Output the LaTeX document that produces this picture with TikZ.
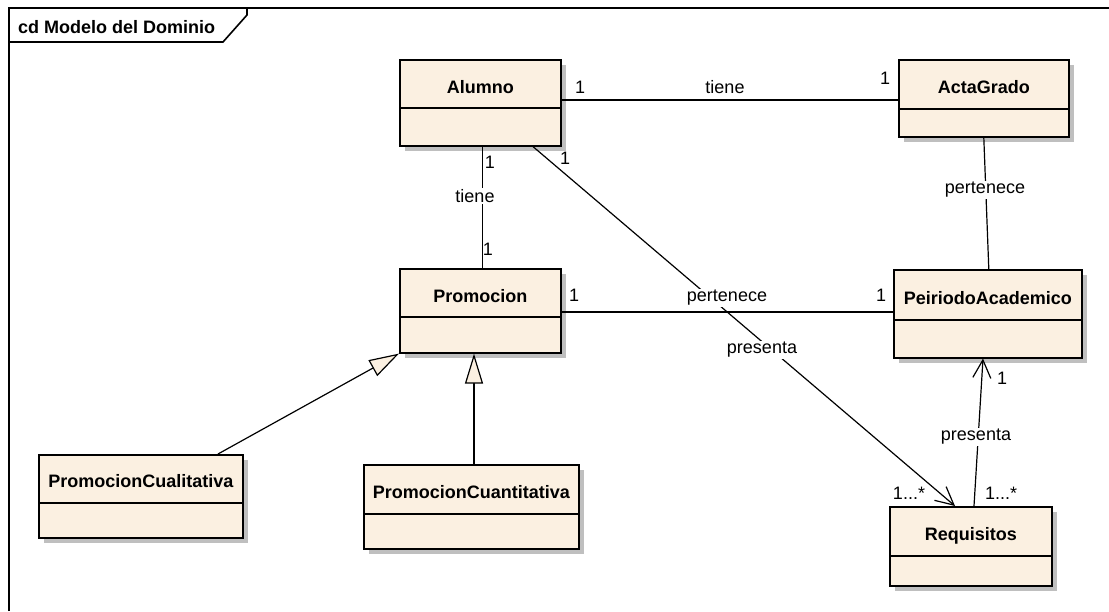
\documentclass[tikz,border=0pt]{standalone}
\usepackage{fontspec}
\setmainfont{Liberation Sans}
\usetikzlibrary{arrows.meta,shadows}
\definecolor{clsfill}{RGB}{251,240,225}
\begin{document}
\begin{tikzpicture}[x=1pt,y=-1pt,
    cls/.style={draw, line width=1.6pt, fill=clsfill, anchor=north west,
      inner xsep=0pt, inner ysep=0pt, font=\fontsize{18}{20}\selectfont\bfseries,
      drop shadow={shadow xshift=5pt, shadow yshift=-5pt, fill=black!25, opacity=1}},
    lbl/.style={fill=white, inner sep=1pt, font=\fontsize{18}{20}\selectfont},
    mult/.style={inner sep=1pt, font=\fontsize{18}{20}\selectfont},
    assoc/.style={line width=1.2pt},
    gen/.style={line width=1.2pt, -{Triangle[open, length=30pt, width=18pt, fill=clsfill]}},
    nav/.style={line width=1.2pt, -{Straight Barb[length=18pt, width=18pt]}}]

    \useasboundingbox (0,0) rectangle (1109,611);
    \draw[line width=1.6pt] (9,611) -- (9,8) -- (1109,8);
    \draw[line width=1.6pt] (9,42) -- (223,42) -- (247,15) -- (247,8);
    \node[anchor=base west, inner sep=0pt, font=\fontsize{18}{20}\selectfont\bfseries] (titulo) at (18,33) {cd Modelo del Dominio};

    \node[cls, minimum width=161, text height=33.5pt, text depth=52.5pt] (alumno) at (399,59) {Alumno};
    \node[cls, minimum width=170, text height=34pt, text depth=43pt] (acta) at (898,59) {ActaGrado};
    \node[cls, minimum width=161, text height=33.5pt, text depth=50.5pt] (promo) at (399,268) {Promocion};
    \node[cls, minimum width=188, text height=35pt, text depth=53pt] (peir) at (893,269) {PeiriodoAcademico};
    \node[cls, minimum width=204, text height=33pt, text depth=50pt] (pcual) at (38,454) {PromocionCualitativa};
    \node[cls, minimum width=215, text height=34pt, text depth=50pt] (pcuant) at (363,464) {PromocionCuantitativa};
    \node[cls, minimum width=162, text height=34pt, text depth=45pt] (req) at (889,506) {Requisitos};

    \foreach \n/\d in {alumno/49, acta/50, promo/49, peir/51, pcual/49, pcuant/50, req/50}
        \draw[line width=1.2pt] ([yshift=-\d pt]\n.north west) -- ([yshift=-\d pt]\n.north east);

    \draw[assoc] (alumno.east |- 0,100) -- (acta.west |- 0,100);
    \draw[assoc] ([xshift=2pt]alumno.south) -- ([xshift=2pt]promo.north);
    \draw[nav] (alumno.south -| 533,0) -- (req.north -| 955,0);
    \draw[assoc] (promo.east |- 0,312) -- (peir.west |- 0,312);
    \draw[assoc] (acta.south) -- ([xshift=1pt]peir.north);
    \draw[nav] (req.north -| 974,0) -- (peir.south -| 983,0);
    \draw[gen] (pcual.north -| 218,0) -- (promo.south west);
    \draw[gen] (pcuant.north -| 474,0) -- (promo.south -| 474,0);

    \node[lbl] (tiene1) at (725,87) {tiene};
    \node[lbl] (tiene2) at (475,196) {tiene};
    \node[lbl] (pert1) at (727,298) {pertenece};
    \node[lbl] (pres1) at (762,350) {presenta};
    \node[lbl] (pert2) at (985,190) {pertenece};
    \node[lbl] (pres2) at (976,437) {presenta};

    \node[mult] (m1) at (580,87) {1};
    \node[mult] (m2) at (885,78) {1};
    \node[mult] (m3) at (490,162) {1};
    \node[mult] (m4) at (488,249) {1};
    \node[mult] (m5) at (565,158) {1};
    \node[mult] (m6) at (574,295) {1};
    \node[mult] (m7) at (881,295) {1};
    \node[mult] (m8) at (1002,378) {1};
    \node[mult] (m9) at (909,493) {1...*};
    \node[mult] (m10) at (1001,493) {1...*};
\end{tikzpicture}
\end{document}
